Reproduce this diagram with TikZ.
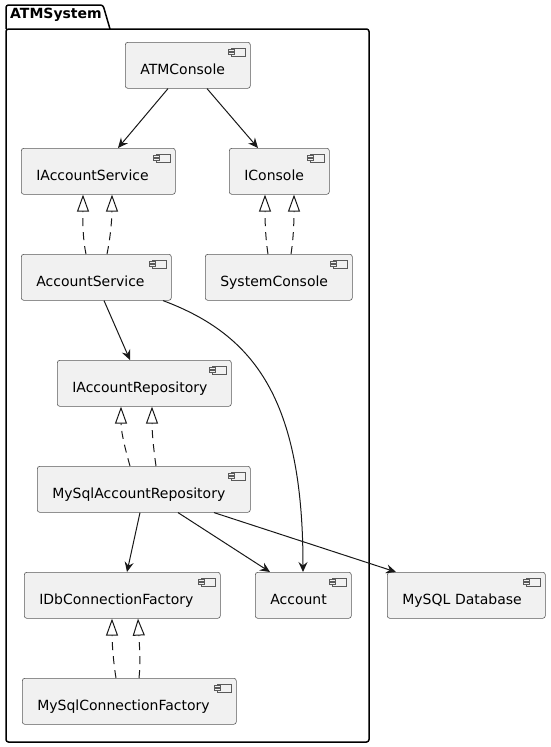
\documentclass[tikz,border=0pt]{standalone}
\usepackage{fontspec}
\setmainfont{DejaVu Sans}
\usetikzlibrary{arrows.meta}
\definecolor{lineC}{HTML}{181818}
\definecolor{boxL}{HTML}{5A5A5A}
\definecolor{boxF}{HTML}{F1F1F1}
\tikzset{
  comp/.style={draw=boxL, line width=0.6pt, fill=boxF, rounded corners=2.5pt,
    anchor=north west, minimum height=46pt, inner xsep=15pt, inner ysep=0pt,
    text height=21pt, text depth=2pt, align=left,
    font=\fontsize{14}{16}\selectfont},
  dep/.style={draw=lineC, line width=1pt, -{Stealth[length=10pt,width=9pt,inset=3.5pt]}},
  real/.style={draw=lineC, line width=1pt, dash pattern=on 8pt off 6pt,
    -{Triangle[open,length=17pt,width=12pt,line width=1pt]}},
  pkgline/.style={draw=black, line width=1.5pt, rounded corners=2.5pt},
  iconline/.style={draw=boxL, line width=0.6pt, fill=boxF}
}
\newcommand{\mycompicon}[1]{%
  \draw[iconline] ([shift={(-19pt,-6pt)}]#1.north east) rectangle ([shift={(-5pt,-14pt)}]#1.north east);
  \draw[iconline] ([shift={(-22pt,-7.5pt)}]#1.north east) rectangle ([shift={(-16pt,-9.5pt)}]#1.north east);
  \draw[iconline] ([shift={(-22pt,-10.5pt)}]#1.north east) rectangle ([shift={(-16pt,-12.5pt)}]#1.north east);
}
\begin{document}
\begin{tikzpicture}[x=1pt,y=-1pt]
\useasboundingbox (0,0) rectangle (550,747);
% package
\draw[pkgline] (6,29) -- (6,5) -- (103,5) -- (110,29);
\draw[pkgline] (6,29) rectangle (369,742);
\node[anchor=base west, inner sep=0pt, font=\fontsize{14}{16}\selectfont\bfseries] (pkgtitle) at (10,18.5) {ATMSystem};
% components
\node[comp, minimum width=125pt, text width=95pt] (atm) at (125,42) {ATMConsole};
\node[comp, minimum width=154pt, text width=124pt] (ias) at (21,148) {IAccountService};
\node[comp, minimum width=100pt, text width=70pt] (icons) at (229,148) {IConsole};
\node[comp, minimum width=150pt, text width=120pt] (as) at (21,254) {AccountService};
\node[comp, minimum width=147pt, text width=117pt] (sc) at (205,254) {SystemConsole};
\node[comp, minimum width=174pt, text width=144pt] (iar) at (57,360) {IAccountRepository};
\node[comp, minimum width=213pt, text width=183pt] (mar) at (37,466) {MySqlAccountRepository};
\node[comp, minimum width=196pt, text width=166pt] (idb) at (24,572) {IDbConnectionFactory};
\node[comp, minimum width=96pt, text width=66pt] (acc) at (255,572) {Account};
\node[comp, minimum width=158pt, text width=128pt] (db) at (387,572) {MySQL Database};
\node[comp, minimum width=214pt, text width=184pt] (mcf) at (22,678) {MySqlConnectionFactory};
\foreach \n in {atm,ias,icons,as,sc,iar,mar,idb,acc,db,mcf} {\mycompicon{\n}}
% dependencies
\draw[dep] ([xshift=43pt]atm.south west) -- ([xshift=97pt]ias.north west);
\draw[dep] ([xshift=82pt]atm.south west) -- ([xshift=29pt]icons.north west);
\draw[dep] ([xshift=83pt]as.south west) -- ([xshift=73pt]iar.north west);
\draw[dep] ([xshift=142pt]as.south west) .. controls (255,335) and (303,400) .. ([xshift=48pt]acc.north west);
\draw[dep] ([xshift=103pt]mar.south west) -- ([xshift=103pt]idb.north west);
\draw[dep] ([xshift=141pt]mar.south west) -- ([xshift=15pt]acc.north west);
\draw[dep] ([xshift=177pt]mar.south west) -- ([xshift=9pt]db.north west);
% realizations
\draw[real] ([xshift=65pt]as.north west) .. controls (82,235) and (83,215) .. ([xshift=62pt]ias.south west);
\draw[real] ([xshift=86pt]as.north west) .. controls (111,235) and (112,215) .. ([xshift=91pt]ias.south west);
\draw[real] ([xshift=63pt]sc.north west) .. controls (265,235) and (265,215) .. ([xshift=36pt]icons.south west);
\draw[real] ([xshift=86pt]sc.north west) .. controls (294,235) and (294,215) .. ([xshift=65pt]icons.south west);
\draw[real] ([xshift=93pt]mar.north west) .. controls (124,445) and (121,430) .. ([xshift=64pt]iar.south west);
\draw[real] ([xshift=119pt]mar.north west) .. controls (153,445) and (152,430) .. ([xshift=95pt]iar.south west);
\draw[real] ([xshift=94pt]mcf.north west) .. controls (113,660) and (112,640) .. ([xshift=88pt]idb.south west);
\draw[real] ([xshift=117pt]mcf.north west) .. controls (141,660) and (139,640) .. ([xshift=114pt]idb.south west);
\end{tikzpicture}
\end{document}
